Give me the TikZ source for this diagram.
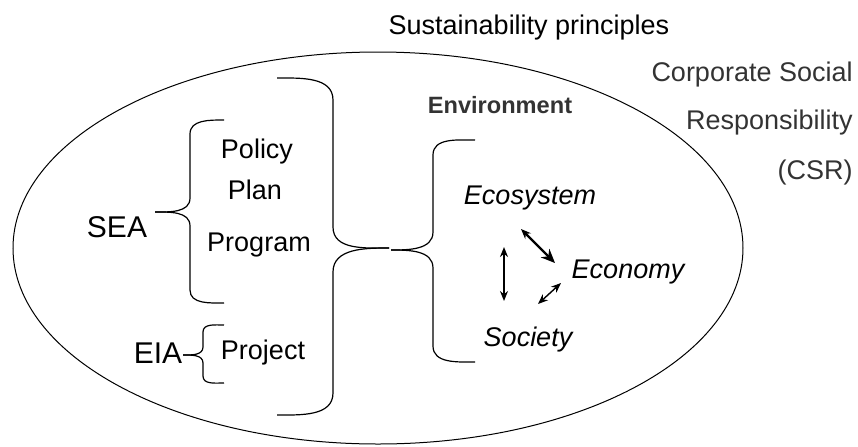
\documentclass[tikz,border=0pt]{standalone}
\usepackage{fontspec}
\setmainfont{Liberation Sans}
\usetikzlibrary{arrows.meta}
\definecolor{darkgrey}{HTML}{333333}
\tikzset{lbl/.style={inner sep=0pt,font=\fontsize{13.5}{16}\selectfont}}
\tikzset{big/.style={inner sep=0pt,font=\fontsize{15}{18}\selectfont}}
\tikzset{factor/.style={lbl,font=\fontsize{13.5}{16}\selectfont\itshape}}
\tikzset{csr/.style={lbl,text=darkgrey,anchor=east}}
\tikzset{curly/.style={line width=0.6pt}}
\tikzset{link/.style={{Stealth[length=5pt,width=4pt]}-{Stealth[length=5pt,width=4pt]},line width=1.1pt}}

\begin{document}
\begin{tikzpicture}[x=0.5pt,y=-0.5pt]
    \useasboundingbox (0,0) rectangle (858,446);
    \draw[line width=0.5pt] (378,248) ellipse [x radius=182.5pt, y radius=98pt];
    % texts
    \node[lbl] (sust) at (529,28) {Sustainability principles};
    \node[csr] (corp) at (853,75) {Corporate Social};
    \node[csr] (resp) at (853,123) {Responsibility};
    \node[csr] (abbr) at (853,173) {(CSR)};
    \node[inner sep=0pt,text=darkgrey,font=\fontsize{11.8}{14}\selectfont\bfseries] (env) at (500,105) {Environment};
    \node[factor] (eco) at (530,198) {Ecosystem};
    \node[factor] (econ) at (628,272) {Economy};
    \node[factor] (soc) at (528,340) {Society};
    \node[lbl] (policy) at (257,152) {Policy};
    \node[lbl] (plan) at (255,190) {Plan};
    \node[lbl] (prog) at (259,245) {Program};
    \node[lbl] (proj) at (263,353) {Project};
    \node[big] (sea) at (117,227) {SEA};
    \node[big] (eia) at (158,353) {EIA};
    % braces
    \draw[curly] (277,78) to[out=0,in=90] (333,100) -- (333,227) to[out=-90,in=180] (389,248);
    \draw[curly] (277,415) to[out=0,in=-90] (333,393) -- (333,272) to[out=90,in=180] (389,248);
    \draw[curly] (391,250) to[out=0,in=-90] (433,232) -- (433,155) to[out=90,in=180] (475,140);
    \draw[curly] (391,250) to[out=0,in=90] (433,268) -- (433,346) to[out=-90,in=180] (475,362);
    \draw[curly] (155,212) to[out=0,in=-90] (190,198) -- (190,134) to[out=90,in=180] (224,120);
    \draw[curly] (155,212) to[out=0,in=90] (190,226) -- (190,290) to[out=-90,in=180] (224,303);
    \draw[curly] (183,355) to[out=0,in=-90] (203,347) -- (203,332) to[out=90,in=180] (224,325);
    \draw[curly] (183,355) to[out=0,in=90] (203,363) -- (203,376) to[out=-90,in=180] (224,383);
    % arrows
    \coordinate (a1) at (504,247);
    \coordinate (a2) at (504,301);
    \coordinate (b1) at (521,229);
    \coordinate (b2) at (555,263);
    \coordinate (c1) at (538,304);
    \coordinate (c2) at (561,283);
    \draw[link] (a1) -- (a2);
    \draw[link,{Stealth[length=5pt,width=4pt]}-{Stealth[length=7pt,width=6pt]}] (b1) -- (b2);
    \draw[link,line width=0.7pt] (c1) -- (c2);
\end{tikzpicture}
\end{document}
